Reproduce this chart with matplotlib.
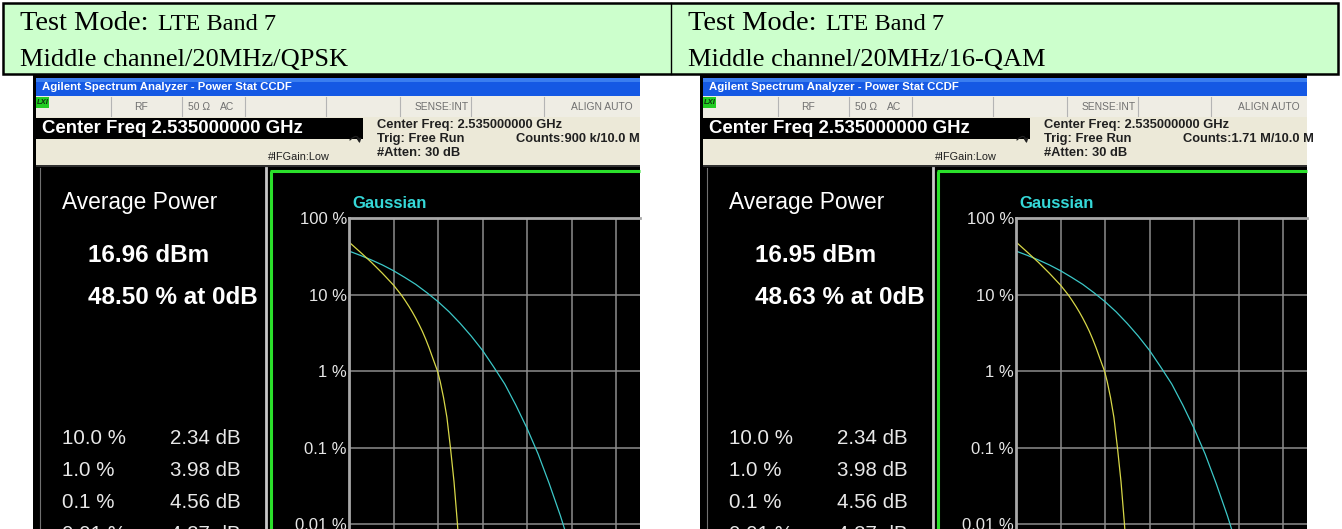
import matplotlib.pyplot as plt
from matplotlib.patches import Rectangle, FancyArrowPatch
from matplotlib.ticker import NullLocator

W, H = 1342, 529

# ---- data ----
modes = ["LTE Band 7", "LTE Band 7"]
subtitles = ["Middle channel/20MHz/QPSK", "Middle channel/20MHz/16-QAM"]
avg_power = ["16.96 dBm", "16.95 dBm"]
pct_at_0db = ["48.50 % at 0dB", "48.63 % at 0dB"]
counts = ["Counts:900 k/10.0 M", "Counts:1.71 M/10.0 M"]
prob_labels = ["10.0 %", "1.0 %", "0.1 %", "0.01 %"]
prob_db = [["2.34 dB", "3.98 dB", "4.56 dB", "4.87 dB"],
           ["2.34 dB", "3.98 dB", "4.56 dB", "4.87 dB"]]

# measured CCDF (yellow), dB above average vs probability in %
sig_db = [0, 0.5, 1.0, 1.5, 2.0, 2.34, 2.5, 2.7, 2.85, 3.0, 3.15, 3.3, 3.45, 3.6,
          3.8, 3.98, 4.1, 4.25, 4.4, 4.56, 4.72, 4.87, 4.97]
sig_qpsk = [48.5, 36, 26.5, 19, 13.3, 10, 8.57, 6.97, 5.9, 4.93, 4.06, 3.3, 2.61, 2.02,
            1.39, 1.0, 0.73, 0.45, 0.25, 0.1, 0.036, 0.0105, 0.004]
sig_16qam = [48.63, 36, 26.5, 19, 13.3, 10, 8.57, 6.97, 5.9, 4.93, 4.06, 3.3, 2.61, 2.02,
             1.39, 1.0, 0.73, 0.45, 0.25, 0.1, 0.036, 0.0105, 0.004]

# Gaussian reference (cyan)
gau_db = [0, 0.5, 1, 1.5, 2, 2.5, 3, 3.5, 4, 4.5, 5, 5.5, 6, 6.5, 7, 7.5, 8, 8.5, 9, 9.5, 10]
gau_pct = [37, 32.6, 28.4, 24.4, 20.5, 16.8, 13.6, 10.6, 8.1, 5.96, 4.2, 2.86, 1.87, 1.14,
           0.68, 0.36, 0.18, 0.083, 0.034, 0.013, 0.0045]

y_ticks = [100, 10, 1, 0.1, 0.01]
y_ticklabels = ["100 %", "10 %", "1 %", "0.1 %", "0.01 %"]

fig = plt.figure(figsize=(W / 100, H / 100), dpi=100)
fig.patch.set_facecolor("white")
ax0 = fig.add_axes([0, 0, 1, 1])
ax0.set_xlim(0, W)
ax0.set_ylim(H, 0)
ax0.axis("off")

serif = "Liberation Serif"
sans = "Liberation Sans"

# header table
ax0.add_patch(Rectangle((3, 3), 1335, 71, fc="#CCFFCC", ec="black", lw=1.8))
ax0.plot([671, 671], [3, 74], color="black", lw=1.0)
for k, x in enumerate([20, 688]):
    ax0.text(x, 30, "Test Mode:", family=serif, fontsize=20.5, va="baseline")
    ax0.text(x + 138, 30, modes[k], family=serif, fontsize=17.5, va="baseline")
    ax0.text(x, 66, subtitles[k], family=serif, fontsize=19, va="baseline")


def screenshot(dx, k):
    ax0.add_patch(Rectangle((33 + dx, 75), 607, 454, fc="black", ec="none"))
    # title bar
    ax0.add_patch(Rectangle((36 + dx, 78), 604, 18, fc="#1559E4", ec="none"))
    ax0.add_patch(Rectangle((36 + dx, 78), 604, 4, fc="#3A7EF0", ec="none"))
    ax0.text(42 + dx, 87.5, "Agilent Spectrum Analyzer - Power Stat CCDF", color="white",
             family=sans, fontweight="bold", fontsize=8.2, va="center")
    # status row
    ax0.add_patch(Rectangle((36 + dx, 96), 604, 21, fc="#EFEDE4", ec="none"))
    ax0.add_patch(Rectangle((36 + dx, 97), 13, 11, fc="#22CC22", ec="none"))
    ax0.text(37 + dx, 102.5, "LXI", fontsize=5.5, fontweight="bold", style="italic",
             color="#103010", va="center", family=sans)
    for sx in [111, 182, 245, 326, 400, 471, 544]:
        ax0.plot([sx + dx, sx + dx], [97, 116], color="#B4B4B4", lw=0.8)
    for tx, s in [(134, "RF"), (188, "50 Ω"), (220, "AC")]:
        ax0.text(tx + dx, 106.5, s, fontsize=7.4, color="#707070", va="center", family=sans)
    ax0.text(469 + dx, 106.5, "SENSE:INT", fontsize=7.4, color="#707070", va="center",
             ha="right", family=sans)
    ax0.text(633 + dx, 106.5, "ALIGN AUTO", fontsize=7.4, color="#707070", va="center",
             ha="right", family=sans)
    # settings panel
    ax0.add_patch(Rectangle((36 + dx, 117), 604, 48, fc="#ECE9D8", ec="none"))
    ax0.add_patch(Rectangle((36 + dx, 118), 327, 21, fc="black", ec="none"))
    ax0.text(42 + dx, 128.5, "Center Freq 2.535000000 GHz", color="white", family=sans,
             fontsize=13.4, fontweight="bold", va="center")
    ax0.text(377 + dx, 125, "Center Freq: 2.535000000 GHz", color="#202020", family=sans,
             fontsize=9.3, fontweight="bold", va="center")
    ax0.text(377 + dx, 139, "Trig: Free Run", color="#202020", family=sans,
             fontsize=9.3, fontweight="bold", va="center")
    ax0.text(516 + dx, 139, counts[k], color="#202020", family=sans,
             fontsize=9.3, fontweight="bold", va="center")
    ax0.text(377 + dx, 153, "#Atten: 30 dB", color="#202020", family=sans,
             fontsize=9.3, fontweight="bold", va="center")
    ax0.text(268 + dx, 157, "#IFGain:Low", color="#202020", family=sans,
             fontsize=7.8, va="center")
    # loop icon
    ax0.add_patch(FancyArrowPatch((348 + dx, 142), (360 + dx, 146),
                                  connectionstyle="arc3,rad=-1.2", arrowstyle="-|>",
                                  mutation_scale=6, color="#202020", lw=0.9))
    ax0.add_patch(Rectangle((36 + dx, 165), 604, 1.5, fc="#303030", ec="none"))
    # left result panel
    ax0.plot([40 + dx, 40 + dx], [168, H], color="#707070", lw=0.8)
    ax0.plot([266 + dx, 266 + dx], [168, H], color="#C8C8C8", lw=2.0)
    ax0.plot([271 + dx, 271 + dx], [H, 171], color="#2BE02B", lw=2.2, solid_capstyle="butt")
    ax0.plot([270 + dx, 640 + dx], [171, 171], color="#2BE02B", lw=2.2, solid_capstyle="butt")
    ax0.text(62 + dx, 203, "Average Power", color="white", family=sans, fontsize=16.4,
             va="center")
    ax0.text(88 + dx, 256, avg_power[k], color="white", family=sans, fontsize=17.5,
             fontweight="bold", va="center")
    ax0.text(88 + dx, 298, pct_at_0db[k], color="white", family=sans, fontsize=17.5,
             fontweight="bold", va="center")
    for j, lab in enumerate(prob_labels):
        yy = 438 + j * 32
        ax0.text(62 + dx, yy, lab, color="#E8E8E8", family=sans, fontsize=14.8, va="center")
        ax0.text(170 + dx, yy, prob_db[k][j], color="#E8E8E8", family=sans, fontsize=14.8,
                 va="center")
    ax0.text(352 + dx, 204, "Gaussian", color="#35D8D8", family=sans, fontsize=12,
             fontweight="bold", va="center")

    # CCDF graticule
    left, top, right = 349 + dx, 218, 640 + dx
    ax = fig.add_axes([left / W, 0, (right - left) / W, (H - top) / H])
    ax.set_facecolor("black")
    ax.set_yscale("log")
    ax.set_xlim(0, (right - left) / 44.5 * 2)
    ax.set_ylim(10 ** (2 - (H - top) / 76.6), 100)
    ax.set_xticks(range(0, 14, 2))
    ax.set_xticklabels([])
    ax.set_yticks(y_ticks)
    ax.set_yticklabels(y_ticklabels)
    ax.yaxis.set_minor_locator(NullLocator())
    ax.tick_params(length=0, pad=1.5, labelcolor="#E6E6E6", labelsize=12)
    for lab in ax.get_yticklabels():
        lab.set_family(sans)
    ax.grid(True, color="#8C8C8C", lw=1.1)
    for side in ["right", "bottom"]:
        ax.spines[side].set_visible(False)
    for side in ["top", "left"]:
        ax.spines[side].set_color("#A8A8A8")
        ax.spines[side].set_linewidth(2)
    ax.plot(gau_db, gau_pct, color="#3CC8C8", lw=0.9)
    ax.plot(sig_db, [sig_qpsk, sig_16qam][k], color="#D8D848", lw=0.9)


screenshot(0, 0)
screenshot(667, 1)

fig.savefig("out.png", dpi=100)
